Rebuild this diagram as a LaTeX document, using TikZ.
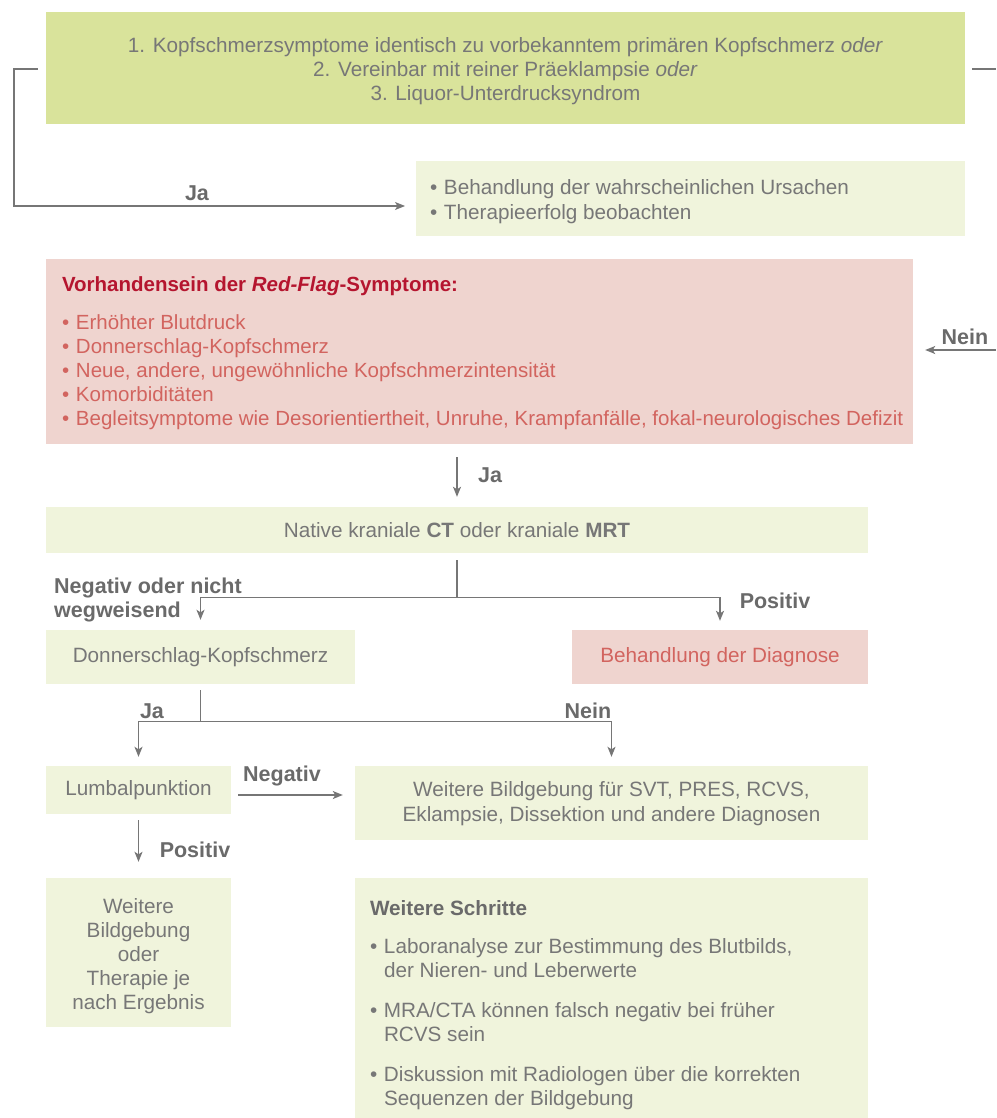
\documentclass[tikz,border=0pt]{standalone}
\usepackage{fontspec}
\setmainfont{Liberation Sans}
\usetikzlibrary{arrows.meta}
\definecolor{boxA}{HTML}{D9E39B}
\definecolor{boxB}{HTML}{F0F4DC}
\definecolor{boxR}{HTML}{EFD4CF}
\definecolor{txt}{HTML}{777777}
\definecolor{lbl}{HTML}{6A6A6A}
\definecolor{redtxt}{HTML}{D2645F}
\definecolor{redhd}{HTML}{B5152F}
\definecolor{ln}{HTML}{767676}
\newcommand\bitem[1]{\par\hangindent=14pt\hangafter=1\makebox[14pt][l]{•}#1}
\begin{document}
\begin{tikzpicture}[x=1pt,y=-1pt,
  box/.style={inner sep=0pt, font=\fontsize{20.7}{24}\selectfont, text=txt, align=center},
  conn/.style={draw=ln, line width=1.3pt, -{Stealth[length=10pt,width=8pt,inset=2.5pt]}},
  plain/.style={draw=ln, line width=1.3pt},
  lab/.style={font=\fontsize{21.5}{24}\selectfont\bfseries, text=lbl, inner sep=0pt}
]
\useasboundingbox (0,0) rectangle (996,1118);

% boxes
\node[box, fill=boxA, minimum width=919pt, minimum height=112pt] (top) at (505.5,68)
  {\begin{minipage}{900pt}\fontsize{20.7}{24}\selectfont\centering\vspace*{6pt}
   1. Kopfschmerzsymptome identisch zu vorbekanntem primären Kopfschmerz \textit{oder}\\
   2. Vereinbar mit reiner Präeklampsie \textit{oder}\\
   3. Liquor-Unterdrucksyndrom\end{minipage}};

\node[box, fill=boxB, minimum width=549pt, minimum height=75pt] (treat) at (690.5,198.5)
  {\begin{minipage}{521pt}\fontsize{20.7}{25}\selectfont\raggedright\vspace*{6pt}
   \bitem{Behandlung der wahrscheinlichen Ursachen}
   \bitem{Therapieerfolg beobachten}\end{minipage}};

\node[box, fill=boxR, minimum width=867pt, minimum height=185pt] (red) at (479.5,351.5)
  {\begin{minipage}{835pt}\fontsize{20.5}{24}\selectfont\raggedright\vspace*{4pt}
   {\color{redhd}\bfseries Vorhandensein der \textit{Red-Flag}-Symptome:}\par\vspace{14pt}
   \color{redtxt}
   \bitem{Erhöhter Blutdruck}
   \bitem{Donnerschlag-Kopfschmerz}
   \bitem{Neue, andere, ungewöhnliche Kopfschmerzintensität}
   \bitem{Komorbiditäten}
   \bitem{\makebox[0pt][l]{Begleitsymptome wie Desorientiertheit, Unruhe, Krampfanfälle, fokal-neurologisches Defizit}}
   \end{minipage}};

\node[box, fill=boxB, minimum width=822pt, minimum height=46pt] (ct) at (457,530)
  {\raisebox{-1pt}{Native kraniale \textbf{CT} oder kraniale \textbf{MRT}}};

\node[box, fill=boxB, minimum width=309pt, minimum height=54pt] (donner) at (200.5,657)
  {\raisebox{-2pt}{Donnerschlag-Kopfschmerz}};

\node[box, fill=boxR, minimum width=296pt, minimum height=54pt, text=redtxt] (diag) at (720,657)
  {\raisebox{-2pt}{Behandlung der Diagnose}};

\node[box, fill=boxB, minimum width=185pt, minimum height=48pt] (lumbal) at (138.5,790)
  {\raisebox{-2pt}{Lumbalpunktion}};

\node[box, fill=boxB, minimum width=513pt, minimum height=74pt] (weiter) at (611.5,803)
  {\begin{minipage}{500pt}\fontsize{20.7}{25}\selectfont\centering\vspace*{2pt}
   Weitere Bildgebung für SVT, PRES, RCVS,\\Eklampsie, Dissektion und andere Diagnosen\end{minipage}};

\node[box, fill=boxB, minimum width=185pt, minimum height=149pt] (therapy) at (138.5,952.5)
  {\begin{minipage}{180pt}\fontsize{20.7}{24}\selectfont\centering\vspace*{8pt}
   Weitere\\Bildgebung\\oder\\Therapie je\\nach Ergebnis\end{minipage}};

\node[box, fill=boxB, minimum width=513pt, minimum height=240pt] (steps) at (611.5,998)
  {\begin{minipage}{483pt}\fontsize{20.7}{24}\selectfont\raggedright\vspace*{14pt}
   {\color{lbl}\bfseries Weitere Schritte}\par\vspace{14pt}
   \bitem{Laboranalyse zur Bestimmung des Blutbilds,\newline der Nieren- und Leberwerte}\par\vspace{16pt}
   \bitem{MRA/CTA können falsch negativ bei früher\newline RCVS sein}\par\vspace{16pt}
   \bitem{Diskussion mit Radiologen über die korrekten\newline Sequenzen der Bildgebung}
   \end{minipage}};

% connectors
\coordinate (lft) at (14,206);
\coordinate (jaend) at (405,206);
\draw[conn] ([xshift=-8pt,yshift=-1pt]top.west) -| (lft) -- (jaend);
\node[lab] (lja1) at (197,193) {Ja};

\coordinate (rgt) at (996,69);
\draw[plain] ([xshift=7pt,yshift=-1pt]top.east) -- (rgt);

\coordinate (neinstart) at (996,350);
\draw[conn] (neinstart) -- ([xshift=12pt]red.east |- neinstart);
\node[lab] (lnein1) at (965,337) {Nein};

\draw[conn] ([yshift=-13pt]ct.north |- red.south) -- ([yshift=10pt]ct.north);
\node[lab] (lja2) at (490,475) {Ja};

\coordinate (ctsplit) at ([yshift=-44pt]ct.south);
\draw[plain] ([yshift=-7pt]ct.south) -- (ctsplit);
\draw[conn] (ctsplit) -| ([yshift=10pt]donner.north);
\draw[conn] (ctsplit) -| ([yshift=9pt]diag.north);
\node[lab, align=left, anchor=west] (lneg1) at (54,599.5) {Negativ oder nicht\\wegweisend};
\node[lab] (lpos1) at (775,601) {Positiv};

\coordinate (dsplit) at ([yshift=-37pt]donner.south);
\draw[plain] ([yshift=-6pt]donner.south) -- (dsplit);
\draw[conn] (dsplit) -| ([yshift=9pt]lumbal.north);
\draw[conn] (dsplit) -| ([yshift=9pt]weiter.north);
\node[lab] (lja3) at (152,711) {Ja};
\node[lab] (lnein2) at (588,711) {Nein};

\draw[conn] ([xshift=7pt,yshift=-5pt]lumbal.east) -- ([xshift=-12pt,yshift=-5pt]lumbal.east -| weiter.west);
\node[lab] (lneg2) at (282,776) {Negativ};

\draw[conn] ([yshift=-6pt]lumbal.south) -- ([yshift=16pt]therapy.north);
\node[lab] (lpos2) at (195,850) {Positiv};
\end{tikzpicture}
\end{document}
